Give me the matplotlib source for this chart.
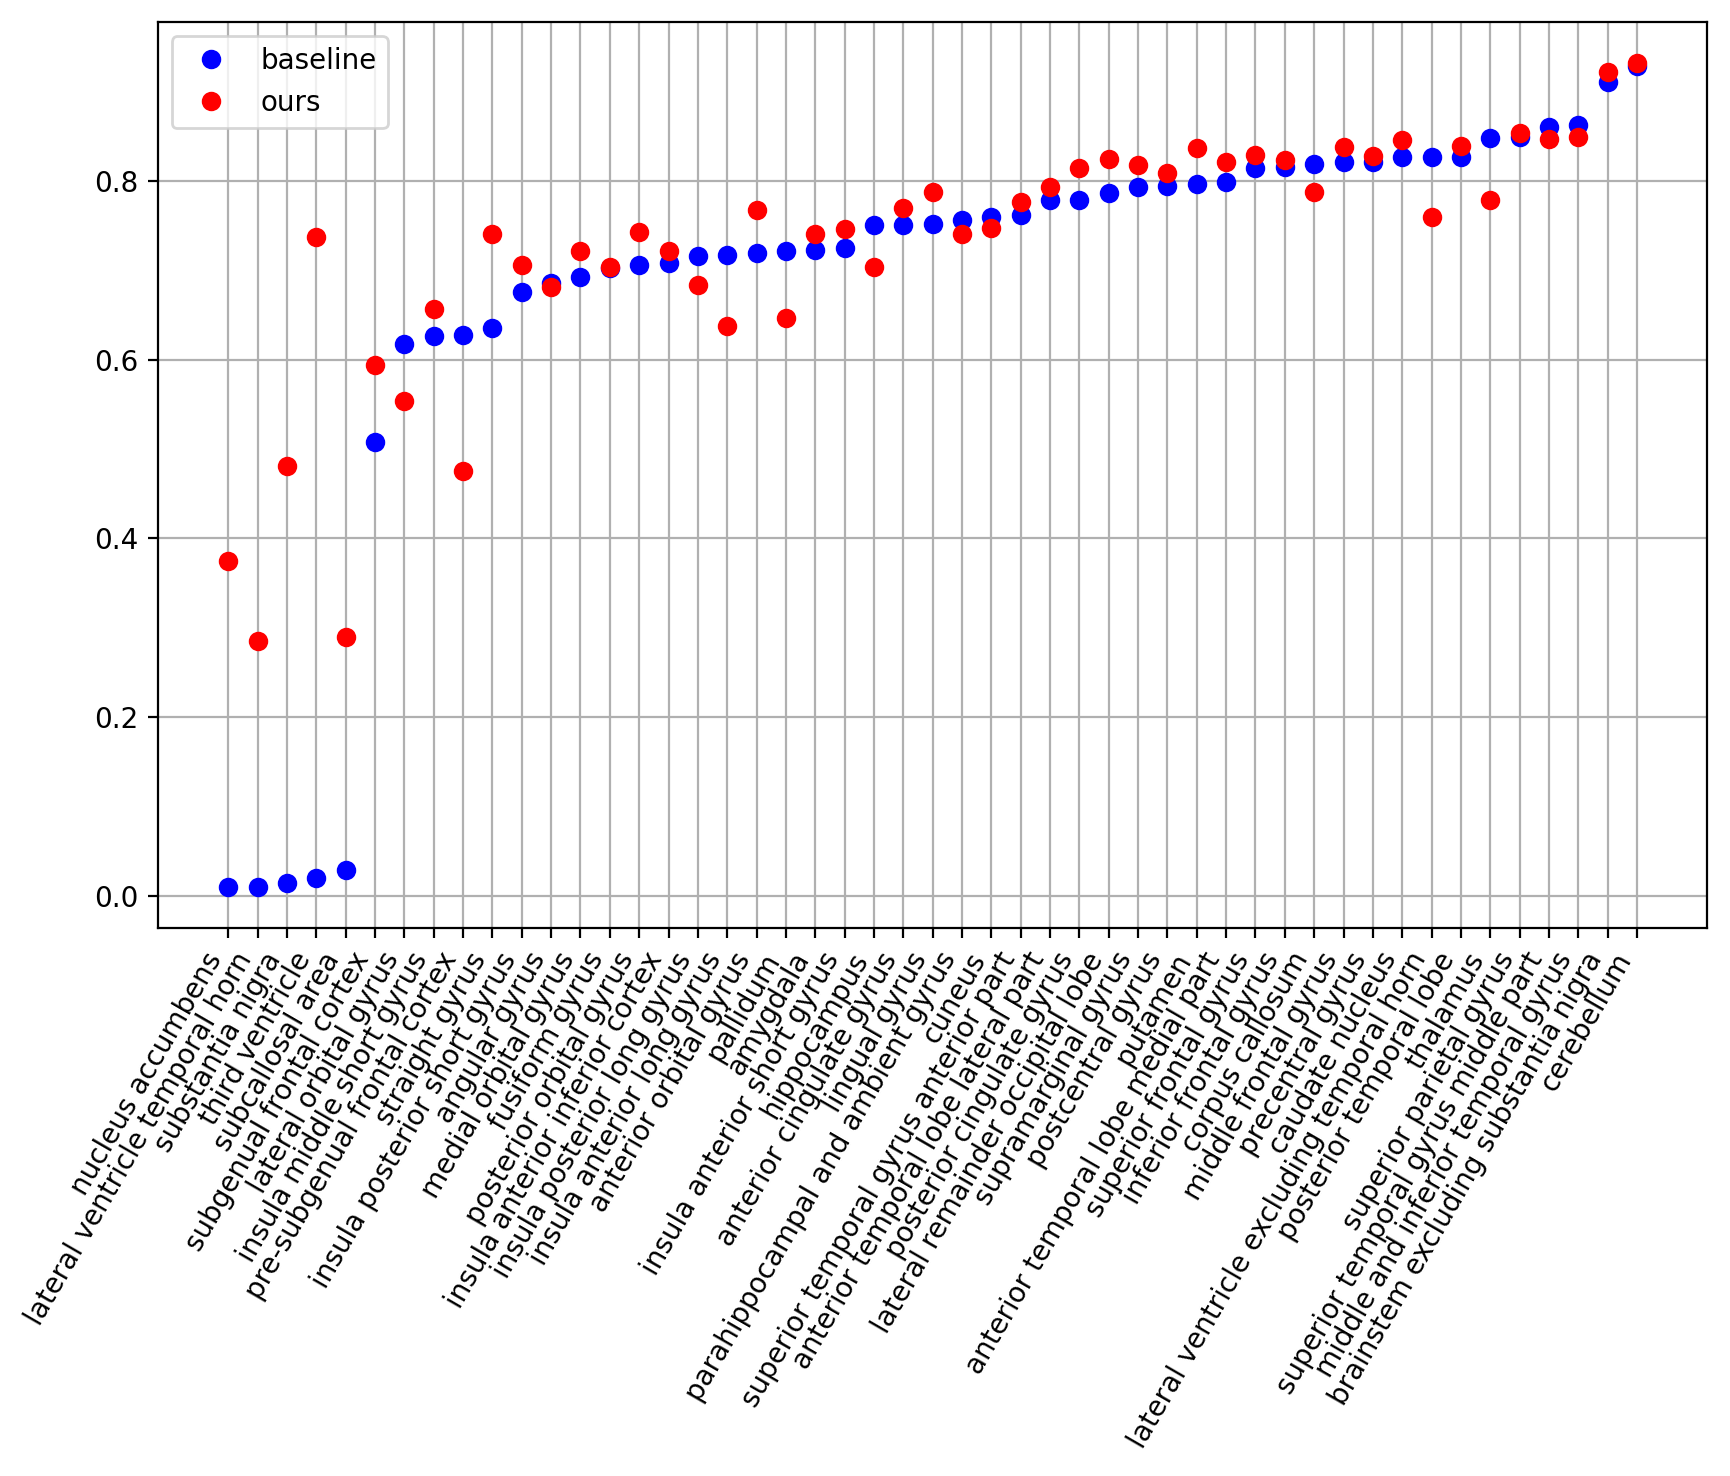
import matplotlib
matplotlib.use("Agg")
import matplotlib.pyplot as plt
import numpy as np

regions = [
    "nucleus accumbens", "lateral ventricle temporal horn", "substantia nigra",
    "third ventricle", "subcallosal area", "subgenual frontal cortex",
    "lateral orbital gyrus", "insula middle short gyrus", "pre-subgenual frontal cortex",
    "straight gyrus", "insula posterior short gyrus", "angular gyrus",
    "medial orbital gyrus", "fusiform gyrus", "posterior orbital gyrus",
    "insula anterior inferior cortex", "insula posterior long gyrus",
    "insula anterior long gyrus", "anterior orbital gyrus", "pallidum", "amygdala",
    "insula anterior short gyrus", "hippocampus", "anterior cingulate gyrus",
    "lingual gyrus", "parahippocampal and ambient gyrus", "cuneus",
    "superior temporal gyrus anterior part", "anterior temporal lobe lateral part",
    "posterior cingulate gyrus", "lateral remainder occipital lobe",
    "supramarginal gyrus", "postcentral gyrus", "putamen",
    "anterior temporal lobe medial part", "superior frontal gyrus",
    "inferior frontal gyrus", "corpus callosum", "middle frontal gyrus",
    "precentral gyrus", "caudate nucleus", "lateral ventricle excluding temporal horn",
    "posterior temporal lobe", "thalamus", "superior parietal gyrus",
    "superior temporal gyrus middle part", "middle and inferior temporal gyrus",
    "brainstem excluding substantia nigra", "cerebellum",
]

baseline = [
    0.010, 0.010, 0.014, 0.020, 0.029, 0.508, 0.618, 0.627, 0.628, 0.636,
    0.676, 0.686, 0.693, 0.703, 0.706, 0.708, 0.716, 0.717, 0.720, 0.722,
    0.723, 0.725, 0.751, 0.751, 0.752, 0.757, 0.760, 0.762, 0.779, 0.779,
    0.787, 0.793, 0.795, 0.797, 0.799, 0.815, 0.816, 0.819, 0.822, 0.822,
    0.827, 0.827, 0.827, 0.848, 0.849, 0.861, 0.863, 0.911, 0.929,
]

ours = [
    0.375, 0.285, 0.481, 0.738, 0.290, 0.594, 0.554, 0.657, 0.476, 0.741,
    0.706, 0.682, 0.722, 0.704, 0.743, 0.722, 0.684, 0.638, 0.768, 0.647,
    0.741, 0.747, 0.704, 0.770, 0.788, 0.741, 0.748, 0.777, 0.794, 0.815,
    0.825, 0.818, 0.809, 0.837, 0.822, 0.829, 0.824, 0.788, 0.838, 0.828,
    0.846, 0.760, 0.839, 0.779, 0.854, 0.847, 0.849, 0.922, 0.932,
]

fig = plt.figure(figsize=(1731 / 200, 1476 / 200), dpi=200)
ax = fig.add_axes([0.0912, 0.3713, 0.9864 - 0.0912, 0.985 - 0.3713])

x = np.arange(len(regions))
ax.plot(x, baseline, "o", color="blue", label="baseline")
ax.plot(x, ours, "o", color="red", label="ours")
ax.set_xticks(x)
ax.set_xticklabels(regions, rotation=60, ha="right")
ax.grid(True)
ax.legend(loc="upper left")

fig.savefig("out.png", dpi=200)
